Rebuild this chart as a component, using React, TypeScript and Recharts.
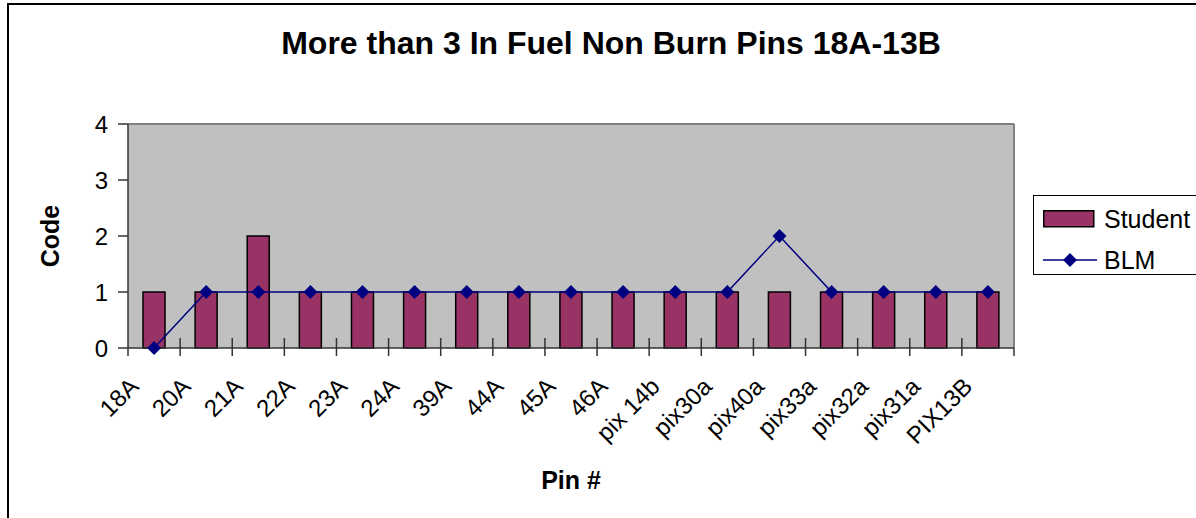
import { Bar, CartesianGrid, ComposedChart, Legend, Line, XAxis, YAxis } from 'recharts';

const pins = [
  '18A', '20A', '21A', '22A', '23A', '24A', '39A', '44A', '45A', '46A',
  'pix 14b', 'pix30a', 'pix40a', 'pix33a', 'pix32a', 'pix31a', 'PIX13B',
];
const studentCodes = [1, 1, 2, 1, 1, 1, 1, 1, 1, 1, 1, 1, 1, 1, 1, 1, 1];
const blmCodes = [0, 1, 1, 1, 1, 1, 1, 1, 1, 1, 1, 1, 2, 1, 1, 1, 1];
const codeTicks = [0, 1, 2, 3, 4];

const chartData = pins.map((pin, i) => ({ pin, Student: studentCodes[i], BLM: blmCodes[i] }));

const FONT = '"Liberation Sans", Arial, sans-serif';
const BAR_COLOR = '#993366';
const LINE_COLOR = '#000080';
const AXIS_COLOR = '#333';

// Excel style: ticks sit on category boundaries, labels rotated under the centre
const PinTick = (props: any) => {
  const { x, y, payload, index, visibleTicksCount } = props;
  const half = payload?.offset ?? 26;
  const left = x - half;
  const lx = x - 14;
  const ly = y + 40;
  return (
    <g>
      <line x1={left} x2={left} y1={index === 0 ? y : y - 10} y2={y + 8} stroke={AXIS_COLOR} strokeWidth={1.5} />
      {index === visibleTicksCount - 1 && (
        <line x1={x + half} x2={x + half} y1={y} y2={y + 8} stroke={AXIS_COLOR} strokeWidth={1.5} />
      )}
      <text
        x={lx}
        y={ly}
        transform={`rotate(-45, ${lx}, ${ly})`}
        textAnchor="end"
        fontSize={24}
        fontFamily={FONT}
        fill="#000"
      >
        {payload.value}
      </text>
    </g>
  );
};

const Diamond = (props: any) => {
  const { cx, cy, index } = props;
  if (cx == null || cy == null) return <g key={index} />;
  const r = 7;
  return (
    <polygon
      key={index}
      points={`${cx},${cy - r} ${cx + r},${cy} ${cx},${cy + r} ${cx - r},${cy}`}
      fill={LINE_COLOR}
    />
  );
};

const LegendBox = () => (
  <div
    style={{
      border: '1.5px solid #000',
      background: '#fff',
      width: 180,
      height: 80,
      fontFamily: FONT,
      fontSize: 25,
      color: '#000',
      boxSizing: 'border-box',
      padding: '10px 0 0 9px',
    }}
  >
    <div style={{ display: 'flex', alignItems: 'center', height: 26 }}>
      <svg width={52} height={18} style={{ marginRight: 9 }}>
        <rect x={0.75} y={0.75} width={50} height={16} fill={BAR_COLOR} stroke="#000" strokeWidth={1.5} />
      </svg>
      <span>Student</span>
    </div>
    <div style={{ display: 'flex', alignItems: 'center', height: 26, marginTop: 15 }}>
      <svg width={54} height={16} style={{ marginRight: 7 }}>
        <line x1={0} x2={54} y1={8} y2={8} stroke={LINE_COLOR} strokeWidth={1.5} />
        <polygon points="27,1 34,8 27,15 20,8" fill={LINE_COLOR} />
      </svg>
      <span>BLM</span>
    </div>
  </div>
);

export default function App() {
  return (
    <div style={{ position: 'absolute', left: 0, top: 0, width: 1196, height: 518, overflow: 'hidden', background: '#fff' }}>
      <div
        style={{
          position: 'absolute',
          left: 7,
          top: 3,
          width: 1300,
          height: 600,
          borderLeft: '2px solid #000',
          borderTop: '2px solid #000',
        }}
      />
      <div style={{ position: 'absolute', left: 0, top: 0 }}>
        <ComposedChart
          width={1196}
          height={518}
          data={chartData}
          margin={{ top: 124, right: 182, bottom: 0, left: 0 }}
          style={{ fontFamily: FONT }}
        >
          <CartesianGrid
            fill="#C0C0C0"
            stroke="#808080"
            strokeWidth={2}
            horizontalCoordinatesGenerator={({ offset }: any) => [offset.top]}
            verticalCoordinatesGenerator={({ offset }: any) => [offset.left + offset.width]}
          />
          <XAxis
            dataKey="pin"
            interval={0}
            height={170}
            tickLine={false}
            tickSize={0}
            tickMargin={0}
            axisLine={{ stroke: AXIS_COLOR, strokeWidth: 1.5 }}
            tick={<PinTick />}
            label={{
              content: (p: any) => {
                const vb = p.viewBox;
                return (
                  <text
                    x={vb.x + vb.width / 2}
                    y={vb.y + 141}
                    textAnchor="middle"
                    fontSize={25}
                    fontWeight="bold"
                    fontFamily={FONT}
                    fill="#000"
                  >
                    Pin #
                  </text>
                );
              },
            }}
          />
          <YAxis
            width={128}
            domain={[0, 4]}
            ticks={codeTicks}
            interval={0}
            tickSize={10}
            tickMargin={10}
            axisLine={{ stroke: AXIS_COLOR, strokeWidth: 1.5 }}
            tickLine={{ stroke: AXIS_COLOR, strokeWidth: 1.5 }}
            tick={{ fontSize: 24, fill: '#000', fontFamily: FONT }}
            label={{
              content: (p: any) => {
                const vb = p.viewBox;
                const cx = vb.x + 50;
                const cy = vb.y + vb.height / 2;
                return (
                  <text
                    x={cx}
                    y={cy}
                    transform={`rotate(-90, ${cx}, ${cy})`}
                    textAnchor="middle"
                    dominantBaseline="central"
                    fontSize={25}
                    fontWeight="bold"
                    fontFamily={FONT}
                    fill="#000"
                  >
                    Code
                  </text>
                );
              },
            }}
          />
          <Legend
            layout="horizontal"
            verticalAlign="middle"
            align="center"
            content={<LegendBox />}
            wrapperStyle={{ left: 1033, top: 195, width: 180 }}
          />
          <Bar
            dataKey="Student"
            barSize={22}
            fill={BAR_COLOR}
            stroke="#000"
            strokeWidth={1.5}
            isAnimationActive={false}
          />
          <Line
            dataKey="BLM"
            type="linear"
            stroke={LINE_COLOR}
            strokeWidth={1.5}
            dot={Diamond}
            activeDot={false}
            isAnimationActive={false}
          />
          <text
            x={611}
            y={54}
            textAnchor="middle"
            fontSize={32}
            fontWeight="bold"
            fontFamily={FONT}
            fill="#000"
          >
            More than 3 In Fuel Non Burn Pins 18A-13B
          </text>
        </ComposedChart>
      </div>
    </div>
  );
}
